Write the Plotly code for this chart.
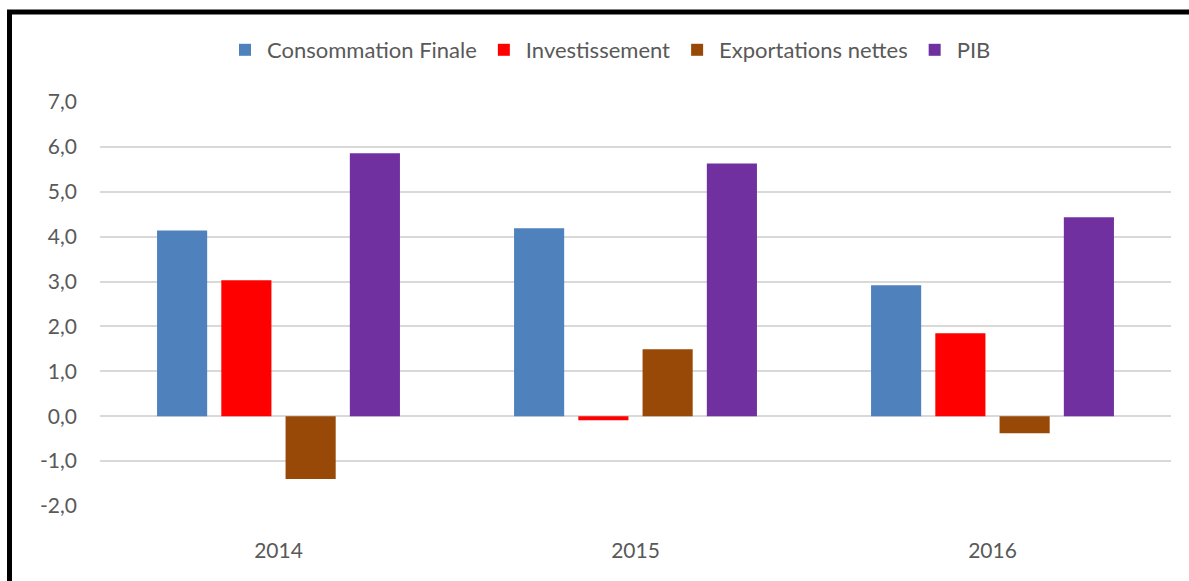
import plotly.graph_objects as go

years = ["2014", "2015", "2016"]
consommation = [4.14, 4.19, 2.92]
investissement = [3.03, -0.09, 1.85]
exportations = [-1.40, 1.49, -0.38]
pib = [5.86, 5.63, 4.43]

y_tick_values = [-2, -1, 0, 1, 2, 3, 4, 5, 6, 7]
y_tick_labels = ["-2,0", "-1,0", "0,0", "1,0", "2,0", "3,0", "4,0", "5,0", "6,0", "7,0"]

series = [
    ("Consommation Finale", consommation, "#4F81BD"),
    ("Investissement", investissement, "#FF0000"),
    ("Exportations nettes", exportations, "#984807"),
    ("PIB", pib, "#7030A0"),
]

fig = go.Figure()
for name, vals, col in series:
    fig.add_trace(go.Bar(x=years, y=vals, name=name, marker_color=col,
                         marker_line_width=0))

W, H = 1189, 581
L, R, T, B = 100, 18, 102, 75
pw, ph = W - L - R, H - T - B

fig.update_layout(
    width=W, height=H,
    margin=dict(l=L, r=R, t=T, b=B, autoexpand=False),
    paper_bgcolor="white", plot_bgcolor="white",
    separators=", ",
    barmode="group", bargap=0.28, bargroupgap=0.22,
    font=dict(family="Lato, Open Sans, sans-serif", size=21, color="#595959"),
    legend=dict(orientation="h", x=(609.5 - L) / pw, xanchor="center",
                y=1 + (102 - 50) / ph, yanchor="middle",
                font=dict(size=22, color="#595959"),
                itemclick=False, itemwidth=34),
    showlegend=True,
    xaxis=dict(showgrid=False, showline=False, zeroline=False,
               ticklabelstandoff=30, tickfont=dict(size=21)),
    yaxis=dict(range=[-2, 7], tickmode="array", tickvals=y_tick_values,
               ticktext=y_tick_labels,
               showgrid=True, gridcolor="#D9D9D9", gridwidth=2,
               zeroline=True, zerolinecolor="#D9D9D9", zerolinewidth=2,
               showline=False, ticklabelstandoff=22, tickfont=dict(size=21)),
)

# black frame around the chart (top and left edges visible)
def px_x(x):
    return (x - L) / pw

def px_y(y):
    return 1 - (y - T) / ph

fig.add_shape(type="rect", xref="paper", yref="paper",
              x0=px_x(9.5), x1=px_x(1220), y0=px_y(620), y1=px_y(12),
              line=dict(color="black", width=5), fillcolor="rgba(0,0,0,0)",
              layer="above")

fig.write_html("out.html", config={"displayModeBar": False},
               post_script="document.body.style.margin='0';document.body.style.overflow='hidden';")
